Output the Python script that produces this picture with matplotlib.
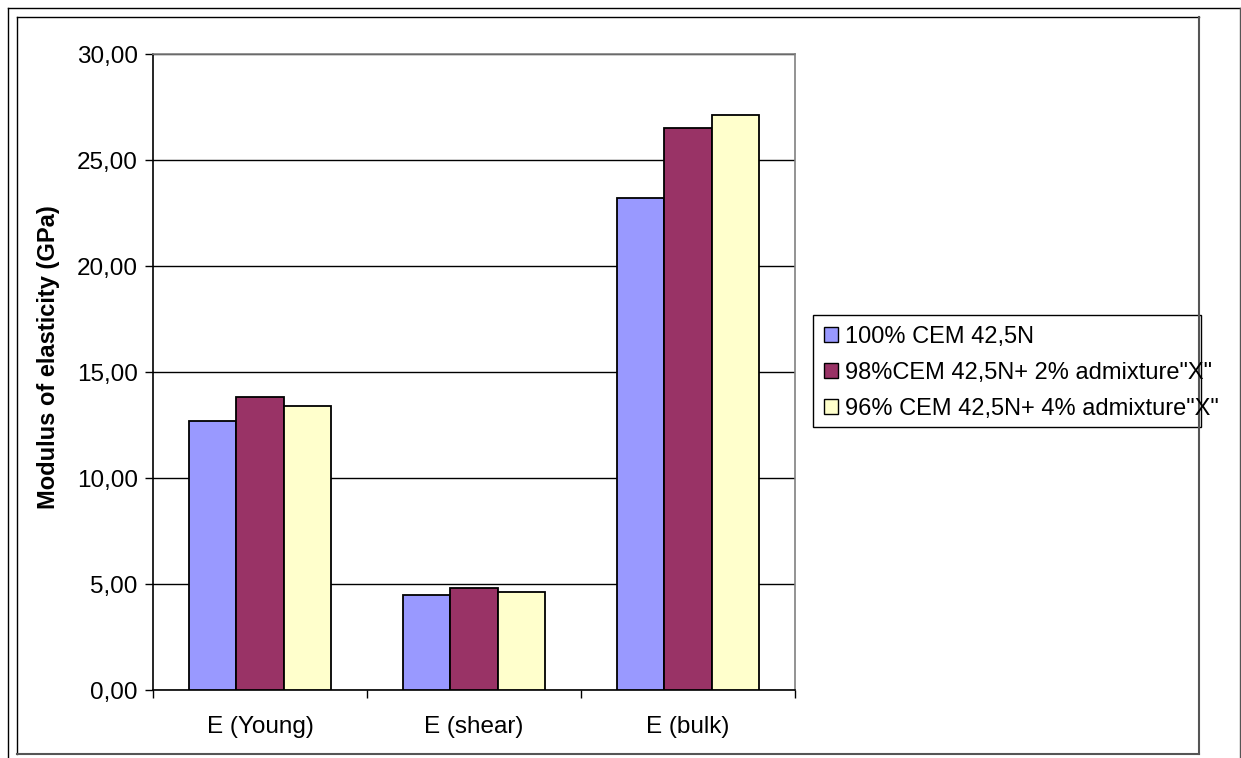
import matplotlib
matplotlib.use("Agg")
import matplotlib.pyplot as plt
from matplotlib.lines import Line2D
from matplotlib.patches import Rectangle
import numpy as np

categories = ["E (Young)", "E (shear)", "E (bulk)"]
series_names = ["100% CEM 42,5N",
                "98%CEM 42,5N+ 2% admixture\"X\"",
                "96% CEM 42,5N+ 4% admixture\"X\""]
values_100 = [12.70, 4.48, 23.19]
values_98 = [13.80, 4.83, 26.52]
values_96 = [13.38, 4.64, 27.12]
colors = ["#9999FF", "#993366", "#FFFFCC"]
yticks = [0, 5, 10, 15, 20, 25, 30]

plt.rcParams['font.family'] = ['Liberation Sans', 'DejaVu Sans']

W, H = 1241, 758
fig = plt.figure(figsize=(W / 100, H / 100), dpi=100)
ax = fig.add_axes([153 / W, 1 - 690 / H, (795 - 153) / W, (690 - 54) / H])

x = np.arange(len(categories))
bw = 0.22
for i, (vals, name, c) in enumerate(zip([values_100, values_98, values_96], series_names, colors)):
    ax.bar(x + (i - 1) * bw, vals, width=bw, color=c, edgecolor="black",
           linewidth=1.3, label=name, zorder=3)

ax.set_xlim(-0.5, 2.5)
ax.set_ylim(0, 30)
ax.set_yticks(yticks)
ax.set_yticklabels([f"{v:.2f}".replace(".", ",") for v in yticks])
ax.yaxis.grid(True, color="black", linewidth=1.0, zorder=0)
ax.set_axisbelow(True)

ax.set_xticks(x)
ax.set_xticklabels(categories)
ax.set_xticks([-0.5, 0.5, 1.5, 2.5], minor=True)
ax.tick_params(axis="x", which="major", length=0, pad=19, labelsize=17.5)
ax.tick_params(axis="x", which="minor", length=6, width=1.0, color="black")
ax.tick_params(axis="y", which="major", length=6, width=1.0, labelsize=17.5, pad=5)

for s in ["left", "bottom"]:
    ax.spines[s].set_color("black")
    ax.spines[s].set_linewidth(1.2)
for s in ["top", "right"]:
    ax.spines[s].set_color("#808080")
    ax.spines[s].set_linewidth(1.2)

ax.set_ylabel("Modulus of elasticity (GPa)", fontsize=17, fontweight="bold")
ax.yaxis.set_label_coords(-0.145, (690 - 357.5) / (690 - 54))

leg = fig.legend(loc="upper left", bbox_to_anchor=(813 / W, 1 - 315 / H),
                 bbox_transform=fig.transFigure, borderaxespad=0,
                 frameon=False,
                 fontsize=17, handlelength=0.6, handleheight=0.6,
                 handletextpad=0.3, labelspacing=0.6, borderpad=0.45)
for h in leg.legend_handles:
    h.set_linewidth(1.0)

fig.add_artist(Rectangle((813 / W, 1 - 427 / H), (1201 - 813) / W, (427 - 315) / H,
                         transform=fig.transFigure, fill=False,
                         edgecolor="black", linewidth=1.0, zorder=1))

# page frames
def fline(xs, ys, c="black", lw=1.0):
    fig.add_artist(Line2D([v / W for v in xs], [1 - v / H for v in ys],
                          transform=fig.transFigure, color=c, linewidth=lw))

fline([8, 1240], [8, 8])
fline([8, 8], [8, 758])
fline([1240, 1240], [8, 758], c="#555555")
fline([17, 1199], [17, 17])
fline([17, 17], [17, 754])
fline([17, 1199], [754, 754], c="#555555", lw=1.5)
fline([1199, 1199], [17, 754], c="#555555", lw=1.5)

fig.savefig("out.png", dpi=100)
